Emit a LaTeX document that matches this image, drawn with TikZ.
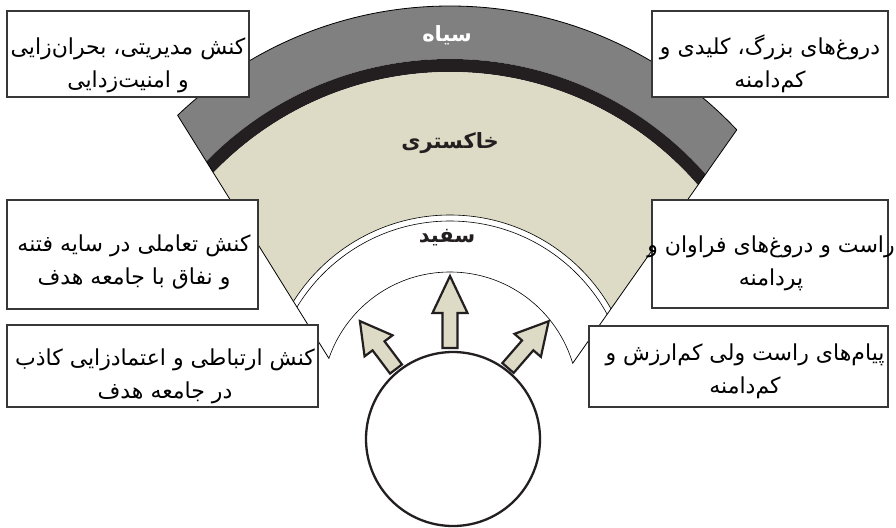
\documentclass[tikz,border=0pt]{standalone}
\usepackage{fontspec}
\TeXXeTstate=1
\newfontfamily\pfont[Script=Arabic]{DejaVu Sans}
\usetikzlibrary{calc}
\definecolor{gband}{RGB}{128,128,128}
\definecolor{kband}{RGB}{35,31,32}
\definecolor{beige}{RGB}{221,218,197}
\definecolor{boxline}{RGB}{55,55,55}
\newcommand\blockarrow[6]{%
  \draw[arr, shift={(#1,#2)}, rotate=#3]
    (0,-#6) -- (#4,-#6) -- (#4,-17.5) -- ({#4+#5},0) -- (#4,17.5) -- (#4,#6) -- (0,#6) -- cycle;}
\begin{document}
\begin{tikzpicture}[x=1pt,y=-1pt,
  lbox/.style={draw=boxline, line width=1.3pt, fill=white},
  ltext/.style={font=\pfont\fontsize{22}{33}\selectfont, align=center, inner sep=0pt, text=black},
  band/.style={font=\pfont\bfseries\fontsize{21}{23}\selectfont, inner sep=0pt},
  arr/.style={draw=kband, line width=2.2pt, fill=beige, line join=miter},
  thin/.style={draw=black, line width=0.6pt}]
\useasboundingbox (0,0) rectangle (896,527);
\fill[white] (0,0) rectangle (896,527);

\coordinate (O) at (450,400);
\coordinate (A) at (445,545);
\coordinate (L) at (328.9,358.4);
\coordinate (R) at (572.6,363.4);
\coordinate (Lo) at (177.6,115.3);
\coordinate (Ro) at (736.8,129.8);

\begin{scope}
  \clip (A) -- ($(A)!4!(L)$) -- ($(A)!4!(R)$) -- cycle;
  \fill[gband, even odd rule] (O) circle[radius=394pt] (O) circle[radius=341pt];
  \fill[kband, even odd rule] (O) circle[radius=341pt] (O) circle[radius=328pt];
  \fill[beige, even odd rule] (O) circle[radius=328pt] (O) circle[radius=185pt];
  \draw[thin] (O) circle[radius=185pt];
  \draw[thin] (O) circle[radius=179pt];
  \draw[thin, line width=0.8pt] (O) circle[radius=394pt];
  \begin{scope}
    \clip (0,0) rectangle (896,480);
    \draw[thin] (O) circle[radius=128pt];
  \end{scope}
\end{scope}
\draw[thin, line width=0.8pt] (L) -- (Lo);
\draw[thin, line width=0.8pt] (R) -- (Ro);

\node[band, text=white] (siah) at (447,35) {\beginR سیاه\endR};
\node[band, text=kband] (khak) at (450,143) {\beginR خاکستری\endR};
\node[band, text=kband] (sefid) at (447,238) {\beginR سفید\endR};

\node[circle, draw=kband, line width=2.3pt, fill=white, minimum size=174pt, inner sep=0pt] (src) at (453,439) {};

\blockarrow{450}{348}{90}{35}{37}{7.5}
\blockarrow{396}{369}{127}{29}{31}{7.5}
\blockarrow{508}{368}{49}{30}{32}{7.5}

\draw[lbox] (7,11) rectangle (249,97);
\draw[lbox] (652,11) rectangle (888,97);
\draw[lbox] (7,200) rectangle (258,309);
\draw[lbox] (652,200) rectangle (888,308);
\draw[lbox] (7,325) rectangle (318,407);
\draw[lbox] (589,326) rectangle (888,407);

\node[ltext] (t1) at (128,65) {\beginR کنش مدیریتی، بحران‌زایی\endR\\\beginR و امنیت‌زدایی\endR};
\node[ltext] (t2) at (770,64) {\beginR دروغ‌های بزرگ، کلیدی و\endR\\\beginR کم‌دامنه\endR};
\node[ltext] (t3) at (134,262) {\beginR کنش تعاملی در سایه فتنه\endR\\\beginR و نفاق با جامعه هدف\endR};
\node[ltext] (t4) at (771,263) {\beginR راست و دروغ‌های فراوان و\endR\\\beginR پردامنه\endR};
\node[ltext] (t5) at (165,376) {\beginR کنش ارتباطی و اعتمادزایی کاذب\endR\\\beginR در جامعه هدف\endR};
\node[ltext] (t6) at (745,371) {\beginR پیام‌های راست ولی کم‌ارزش و\endR\\\beginR کم‌دامنه\endR};
\end{tikzpicture}
\end{document}
